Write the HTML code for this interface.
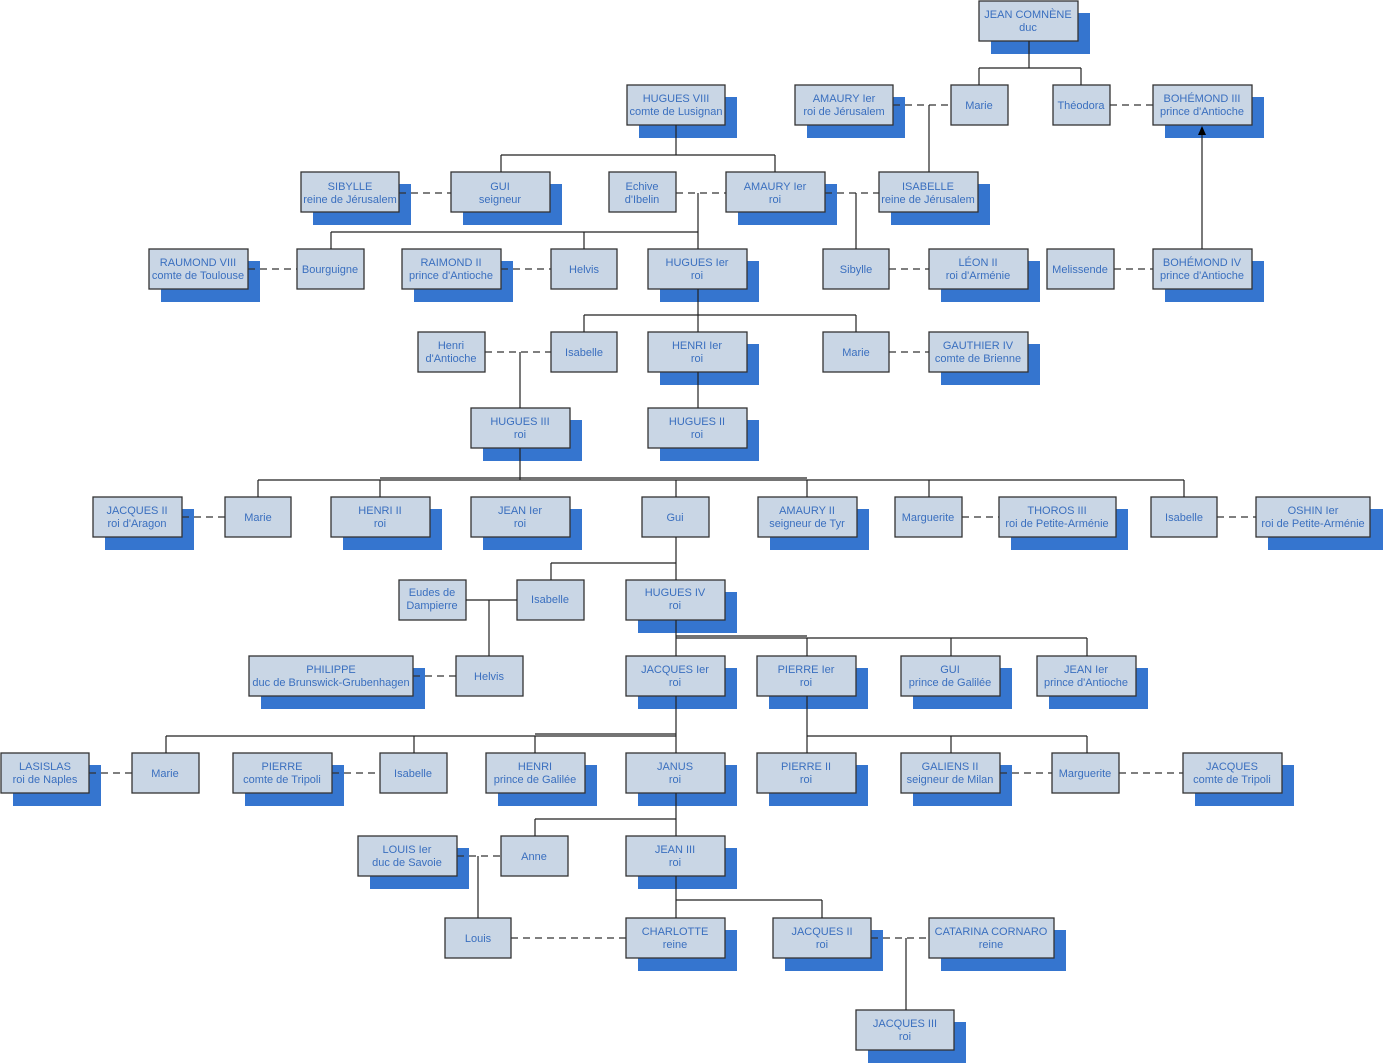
<!DOCTYPE html>
<html><head><meta charset="utf-8"><style>
html,body{margin:0;padding:0;background:#fff}
svg{display:block}
.s{fill:#3575cf}
.b{fill:#c9d6e5;stroke:#333;stroke-width:1.3}
text{font-family:"Liberation Sans",sans-serif;font-size:11px;fill:#3a6fbf;text-anchor:middle}
.l{stroke:#222;stroke-width:1.2;fill:none}
.d{stroke:#333;stroke-width:1.2;stroke-dasharray:7,5;fill:none}
</style></head><body>
<svg width="1383" height="1064" viewBox="0 0 1383 1064" xmlns="http://www.w3.org/2000/svg">
<!-- boxes -->
<rect class="s" x="991" y="13" width="99" height="41"/><rect class="b" x="979" y="1" width="99" height="40"/><text x="1028" y="18">JEAN COMNÈNE</text><text x="1028" y="31">duc</text>

<rect class="s" x="639" y="97" width="98" height="41"/><rect class="b" x="627" y="85" width="98" height="40"/><text x="676" y="102">HUGUES VIII</text><text x="676" y="115">comte de Lusignan</text>
<rect class="s" x="807" y="97" width="98" height="41"/><rect class="b" x="795" y="85" width="98" height="40"/><text x="844" y="102">AMAURY Ier</text><text x="844" y="115">roi de Jérusalem</text>
<rect class="b" x="951" y="85" width="57" height="40"/><text x="979" y="109">Marie</text>
<rect class="b" x="1053" y="85" width="57" height="40"/><text x="1081" y="109">Théodora</text>
<rect class="s" x="1165" y="97" width="99" height="41"/><rect class="b" x="1153" y="85" width="99" height="40"/><text x="1202" y="102">BOHÉMOND III</text><text x="1202" y="115">prince d'Antioche</text>

<rect class="s" x="313" y="184" width="98" height="41"/><rect class="b" x="301" y="172" width="98" height="40"/><text x="350" y="190">SIBYLLE</text><text x="350" y="203">reine de Jérusalem</text>
<rect class="s" x="463" y="184" width="99" height="41"/><rect class="b" x="451" y="172" width="99" height="40"/><text x="500" y="190">GUI</text><text x="500" y="203">seigneur</text>
<rect class="b" x="609" y="172" width="67" height="40"/><text x="642" y="190">Echive</text><text x="642" y="203">d'Ibelin</text>
<rect class="s" x="738" y="184" width="99" height="41"/><rect class="b" x="726" y="172" width="99" height="40"/><text x="775" y="190">AMAURY Ier</text><text x="775" y="203">roi</text>
<rect class="s" x="891" y="184" width="99" height="41"/><rect class="b" x="879" y="172" width="99" height="40"/><text x="928" y="190">ISABELLE</text><text x="928" y="203">reine de Jérusalem</text>

<rect class="s" x="161" y="261" width="99" height="41"/><rect class="b" x="149" y="249" width="99" height="40"/><text x="198" y="266">RAUMOND VIII</text><text x="198" y="279">comte de Toulouse</text>
<rect class="b" x="297" y="249" width="67" height="40"/><text x="330" y="273">Bourguigne</text>
<rect class="s" x="414" y="261" width="99" height="41"/><rect class="b" x="402" y="249" width="99" height="40"/><text x="451" y="266">RAIMOND II</text><text x="451" y="279">prince d'Antioche</text>
<rect class="b" x="551" y="249" width="66" height="40"/><text x="584" y="273">Helvis</text>
<rect class="s" x="660" y="261" width="99" height="41"/><rect class="b" x="648" y="249" width="99" height="40"/><text x="697" y="266">HUGUES Ier</text><text x="697" y="279">roi</text>
<rect class="b" x="823" y="249" width="66" height="40"/><text x="856" y="273">Sibylle</text>
<rect class="s" x="941" y="261" width="99" height="41"/><rect class="b" x="929" y="249" width="99" height="40"/><text x="978" y="266">LÉON II</text><text x="978" y="279">roi d'Arménie</text>
<rect class="b" x="1047" y="249" width="67" height="40"/><text x="1080" y="273">Melissende</text>
<rect class="s" x="1165" y="261" width="99" height="41"/><rect class="b" x="1153" y="249" width="99" height="40"/><text x="1202" y="266">BOHÉMOND IV</text><text x="1202" y="279">prince d'Antioche</text>

<rect class="b" x="418" y="332" width="67" height="40"/><text x="451" y="349">Henri</text><text x="451" y="362">d'Antioche</text>
<rect class="b" x="551" y="332" width="66" height="40"/><text x="584" y="356">Isabelle</text>
<rect class="s" x="660" y="344" width="99" height="41"/><rect class="b" x="648" y="332" width="99" height="40"/><text x="697" y="349">HENRI Ier</text><text x="697" y="362">roi</text>
<rect class="b" x="823" y="332" width="66" height="40"/><text x="856" y="356">Marie</text>
<rect class="s" x="941" y="344" width="99" height="41"/><rect class="b" x="929" y="332" width="99" height="40"/><text x="978" y="349">GAUTHIER IV</text><text x="978" y="362">comte de Brienne</text>

<rect class="s" x="483" y="420" width="99" height="41"/><rect class="b" x="471" y="408" width="99" height="40"/><text x="520" y="425">HUGUES III</text><text x="520" y="438">roi</text>
<rect class="s" x="660" y="420" width="99" height="41"/><rect class="b" x="648" y="408" width="99" height="40"/><text x="697" y="425">HUGUES II</text><text x="697" y="438">roi</text>

<rect class="s" x="105" y="509" width="89" height="41"/><rect class="b" x="93" y="497" width="89" height="40"/><text x="137" y="514">JACQUES II</text><text x="137" y="527">roi d'Aragon</text>
<rect class="b" x="225" y="497" width="66" height="40"/><text x="258" y="521">Marie</text>
<rect class="s" x="343" y="509" width="99" height="41"/><rect class="b" x="331" y="497" width="99" height="40"/><text x="380" y="514">HENRI II</text><text x="380" y="527">roi</text>
<rect class="s" x="483" y="509" width="99" height="41"/><rect class="b" x="471" y="497" width="99" height="40"/><text x="520" y="514">JEAN Ier</text><text x="520" y="527">roi</text>
<rect class="b" x="642" y="497" width="67" height="40"/><text x="675" y="521">Gui</text>
<rect class="s" x="770" y="509" width="99" height="41"/><rect class="b" x="758" y="497" width="99" height="40"/><text x="807" y="514">AMAURY II</text><text x="807" y="527">seigneur de Tyr</text>
<rect class="b" x="895" y="497" width="67" height="40"/><text x="928" y="521">Marguerite</text>
<rect class="s" x="1011" y="509" width="117" height="41"/><rect class="b" x="999" y="497" width="117" height="40"/><text x="1057" y="514">THOROS III</text><text x="1057" y="527">roi de Petite-Arménie</text>
<rect class="b" x="1151" y="497" width="66" height="40"/><text x="1184" y="521">Isabelle</text>
<rect class="s" x="1268" y="509" width="115" height="41"/><rect class="b" x="1256" y="497" width="114" height="40"/><text x="1313" y="514">OSHIN Ier</text><text x="1313" y="527">roi de Petite-Arménie</text>

<rect class="b" x="399" y="580" width="67" height="40"/><text x="432" y="596">Eudes de</text><text x="432" y="609">Dampierre</text>
<rect class="b" x="517" y="580" width="67" height="40"/><text x="550" y="603">Isabelle</text>
<rect class="s" x="638" y="592" width="99" height="41"/><rect class="b" x="626" y="580" width="99" height="40"/><text x="675" y="596">HUGUES IV</text><text x="675" y="609">roi</text>

<rect class="s" x="261" y="668" width="164" height="41"/><rect class="b" x="249" y="656" width="164" height="40"/><text x="331" y="673">PHILIPPE</text><text x="331" y="686">duc de Brunswick-Grubenhagen</text>
<rect class="b" x="456" y="656" width="67" height="40"/><text x="489" y="680">Helvis</text>
<rect class="s" x="638" y="668" width="99" height="41"/><rect class="b" x="626" y="656" width="99" height="40"/><text x="675" y="673">JACQUES Ier</text><text x="675" y="686">roi</text>
<rect class="s" x="769" y="668" width="99" height="41"/><rect class="b" x="757" y="656" width="99" height="40"/><text x="806" y="673">PIERRE Ier</text><text x="806" y="686">roi</text>
<rect class="s" x="913" y="668" width="99" height="41"/><rect class="b" x="901" y="656" width="99" height="40"/><text x="950" y="673">GUI</text><text x="950" y="686">prince de Galilée</text>
<rect class="s" x="1049" y="668" width="99" height="41"/><rect class="b" x="1037" y="656" width="99" height="40"/><text x="1086" y="673">JEAN Ier</text><text x="1086" y="686">prince d'Antioche</text>

<rect class="s" x="13" y="765" width="88" height="41"/><rect class="b" x="1" y="753" width="88" height="40"/><text x="45" y="770">LASISLAS</text><text x="45" y="783">roi de Naples</text>
<rect class="b" x="132" y="753" width="67" height="40"/><text x="165" y="777">Marie</text>
<rect class="s" x="245" y="765" width="99" height="41"/><rect class="b" x="233" y="753" width="99" height="40"/><text x="282" y="770">PIERRE</text><text x="282" y="783">comte de Tripoli</text>
<rect class="b" x="380" y="753" width="67" height="40"/><text x="413" y="777">Isabelle</text>
<rect class="s" x="498" y="765" width="99" height="41"/><rect class="b" x="486" y="753" width="99" height="40"/><text x="535" y="770">HENRI</text><text x="535" y="783">prince de Galilée</text>
<rect class="s" x="638" y="765" width="99" height="41"/><rect class="b" x="626" y="753" width="99" height="40"/><text x="675" y="770">JANUS</text><text x="675" y="783">roi</text>
<rect class="s" x="769" y="765" width="99" height="41"/><rect class="b" x="757" y="753" width="99" height="40"/><text x="806" y="770">PIERRE II</text><text x="806" y="783">roi</text>
<rect class="s" x="913" y="765" width="99" height="41"/><rect class="b" x="901" y="753" width="99" height="40"/><text x="950" y="770">GALIENS II</text><text x="950" y="783">seigneur de Milan</text>
<rect class="b" x="1052" y="753" width="67" height="40"/><text x="1085" y="777">Marguerite</text>
<rect class="s" x="1195" y="765" width="99" height="41"/><rect class="b" x="1183" y="753" width="99" height="40"/><text x="1232" y="770">JACQUES</text><text x="1232" y="783">comte de Tripoli</text>

<rect class="s" x="370" y="848" width="99" height="41"/><rect class="b" x="358" y="836" width="99" height="40"/><text x="407" y="853">LOUIS Ier</text><text x="407" y="866">duc de Savoie</text>
<rect class="b" x="501" y="836" width="67" height="40"/><text x="534" y="860">Anne</text>
<rect class="s" x="638" y="848" width="99" height="41"/><rect class="b" x="626" y="836" width="99" height="40"/><text x="675" y="853">JEAN III</text><text x="675" y="866">roi</text>

<rect class="b" x="445" y="918" width="66" height="40"/><text x="478" y="942">Louis</text>
<rect class="s" x="638" y="930" width="99" height="41"/><rect class="b" x="626" y="918" width="99" height="40"/><text x="675" y="935">CHARLOTTE</text><text x="675" y="948">reine</text>
<rect class="s" x="785" y="930" width="98" height="41"/><rect class="b" x="773" y="918" width="98" height="40"/><text x="822" y="935">JACQUES II</text><text x="822" y="948">roi</text>
<rect class="s" x="941" y="930" width="125" height="41"/><rect class="b" x="929" y="918" width="125" height="40"/><text x="991" y="935">CATARINA CORNARO</text><text x="991" y="948">reine</text>

<rect class="s" x="868" y="1022" width="98" height="41"/><rect class="b" x="856" y="1010" width="98" height="40"/><text x="905" y="1027">JACQUES III</text><text x="905" y="1040">roi</text>

<!-- lines -->
<path class="l" d="M1029 41V68M979 68H1081M979 68V85M1081 68V85"/>
<path class="d" d="M893 105H951M1110 105H1153"/>
<path class="l" d="M929 105V172"/>
<path class="l" d="M1202 249V134"/>
<polygon points="1202,126 1198,135 1206,135" fill="#000"/>
<path class="l" d="M676 125V155M501 155H775M501 155V172M775 155V172"/>
<path class="d" d="M399 193H451M676 193H726M825 193H879"/>
<path class="l" d="M698 193V249M331 232H698M331 232V249M584 232V249M856 193V249"/>
<path class="d" d="M248 269H297M501 269H551M889 269H929M1114 269H1153"/>
<path class="l" d="M698 289V332M584 315H856M584 315V332M856 315V332"/>
<path class="d" d="M485 352H551M889 352H929"/>
<path class="l" d="M520 352V408M698 372V408"/>
<path class="l" d="M520 448V480M258 480H1184M258 480V497M380 480V497M676 480V497M807 480V497M929 480V497M1184 480V497"/>
<path class="l" d="M380 478H807"/>
<path class="d" d="M182 517H225M962 517H999M1217 517H1256"/>
<path class="l" d="M676 537V563M551 563H676M551 563V580M676 563V580"/>
<path class="l" d="M466 600H517M489 600V656"/>
<path class="d" d="M413 676H456"/>
<path class="l" d="M676 620V656M676 638H1087M807 638V656M951 638V656M1087 638V656M676 636H807"/>
<path class="l" d="M676 696V736M166 736H676M166 736V753M414 736V753M535 736V753M535 734H676M676 736V753"/>
<path class="l" d="M807 696V753M807 736H1087M951 736V753M1087 736V753"/>
<path class="d" d="M89 773H132M332 773H380M1000 773H1052M1119 773H1183"/>
<path class="l" d="M676 793V819M535 819H676M535 819V836M676 819V836"/>
<path class="d" d="M457 856H501"/>
<path class="l" d="M478 856V918"/>
<path class="l" d="M676 876V900M676 900H822M822 900V918M676 900V918"/>
<path class="d" d="M511 938H626M871 938H929"/>
<path class="l" d="M906 938V1010"/>
</svg>
</body></html>
